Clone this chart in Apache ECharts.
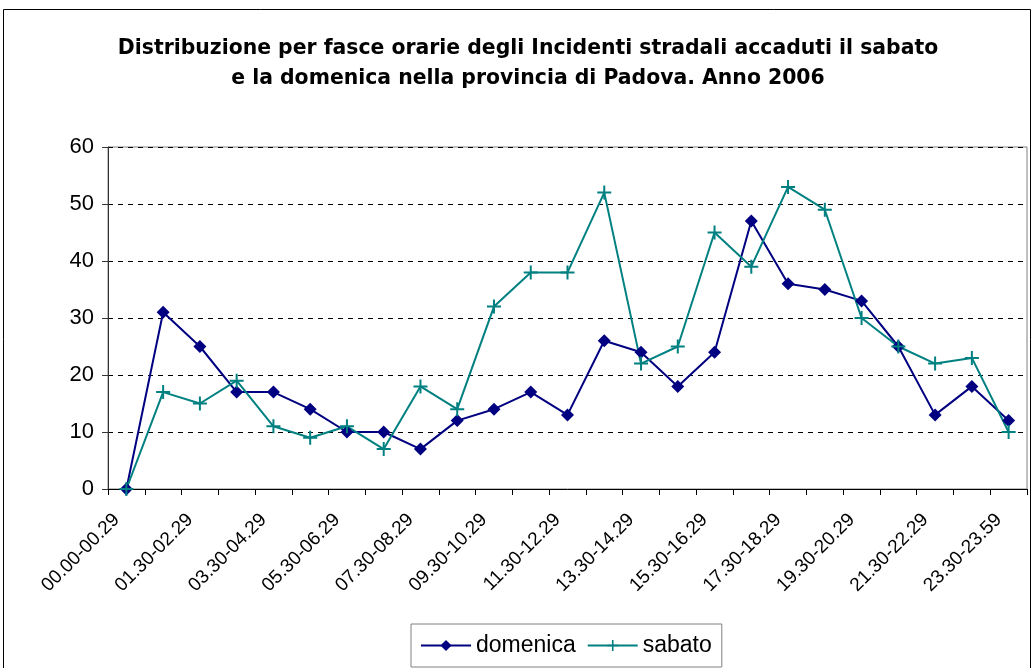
<!DOCTYPE html>
<html>
<head>
<meta charset="utf-8">
<script src="https://cdn.jsdelivr.net/npm/echarts@6/dist/echarts.min.js"></script>
<style>
  html, body { margin: 0; padding: 0; background: #fff; }
  #chart { width: 1033px; height: 668px; }
</style>
</head>
<body>
<div id="chart"></div>
<script>
// fasce orarie
const categories = [
  '00.00-00.29', '00.30-01.29', '01.30-02.29', '02.30-03.29', '03.30-04.29',
  '04.30-05.29', '05.30-06.29', '06.30-07.29', '07.30-08.29', '08.30-09.29',
  '09.30-10.29', '10.30-11.29', '11.30-12.29', '12.30-13.29', '13.30-14.29',
  '14.30-15.29', '15.30-16.29', '16.30-17.29', '17.30-18.29', '18.30-19.29',
  '19.30-20.29', '20.30-21.29', '21.30-22.29', '22.30-23.29', '23.30-23.59'
];
const domenica = [0, 31, 25, 17, 17, 14, 10, 10, 7, 12, 14, 17, 13, 26, 24, 18, 24, 47, 36, 35, 33, 25, 13, 18, 12];
const sabato = [0, 17, 15, 19, 11, 9, 11, 7, 18, 14, 32, 38, 38, 52, 22, 25, 45, 39, 53, 49, 30, 25, 22, 23, 10];
const yTicks = [0, 10, 20, 30, 40, 50, 60];

const FONT = '"Liberation Sans", Arial, sans-serif';
const NAVY = '#000080';
const TEAL = '#008080';
// simbolo "+" per la serie sabato
const PLUS = 'path://M6,0H8V6H14V8H8V14H6V8H0V6H6Z';

const chart = echarts.init(document.getElementById('chart'));

chart.setOption({
  animation: false,
  backgroundColor: '#fff',
  textStyle: { fontFamily: FONT },
  title: {
    text: 'Distribuzione per fasce orarie degli Incidenti stradali accaduti il sabato\ne la domenica nella provincia di Padova. Anno 2006',
    left: 523,
    top: 29,
    textAlign: 'center',
    textStyle: {
      fontFamily: '"DejaVu Sans", sans-serif',
      fontSize: 20.4,
      fontWeight: 'bold',
      color: '#000',
      lineHeight: 30
    }
  },
  graphic: [{
    type: 'rect',
    shape: { x: 3.5, y: 9.5, width: 1027, height: 720 },
    style: { fill: 'none', stroke: '#000', lineWidth: 1 },
    silent: true
  }],
  legend: {
    left: 411,
    top: 624,
    padding: [10, 10, 10, 9],
    itemWidth: 50,
    itemHeight: 14,
    itemGap: 11,
    borderColor: '#808080',
    borderWidth: 1,
    textStyle: { fontFamily: FONT, fontSize: 23, color: '#000' },
    data: ['domenica', 'sabato']
  },
  grid: {
    left: 108,
    right: 6,
    top: 147,
    bottom: 179,
    show: true,
    borderColor: '#808080',
    borderWidth: 1
  },
  xAxis: {
    type: 'category',
    data: categories,
    boundaryGap: true,
    axisLine: { lineStyle: { color: '#000', width: 1 } },
    axisTick: { show: true, interval: 0, length: 6, lineStyle: { color: '#000' } },
    axisLabel: {
      interval: 1,
      rotate: 45,
      margin: 18,
      padding: [0, 14, 0, 0],
      fontFamily: FONT,
      fontSize: 19,
      color: '#000'
    },
    splitLine: { show: false }
  },
  yAxis: {
    type: 'value',
    min: yTicks[0],
    max: yTicks[yTicks.length - 1],
    interval: 10,
    axisLine: { show: true, lineStyle: { color: '#333', width: 1 } },
    axisTick: { show: true, length: 6, lineStyle: { color: '#333' } },
    axisLabel: {
      margin: 14,
      fontFamily: FONT,
      fontSize: 22,
      color: '#000'
    },
    splitLine: {
      show: true,
      lineStyle: { color: '#000', type: [5, 5], width: 1 }
    }
  },
  series: [
    {
      name: 'domenica',
      type: 'line',
      data: domenica,
      symbol: 'diamond',
      symbolSize: 13,
      lineStyle: { color: NAVY, width: 2 },
      itemStyle: { color: NAVY }
    },
    {
      name: 'sabato',
      type: 'line',
      data: sabato,
      symbol: PLUS,
      symbolSize: 14,
      lineStyle: { color: TEAL, width: 2 },
      itemStyle: { color: TEAL }
    }
  ]
});
</script>
</body>
</html>
